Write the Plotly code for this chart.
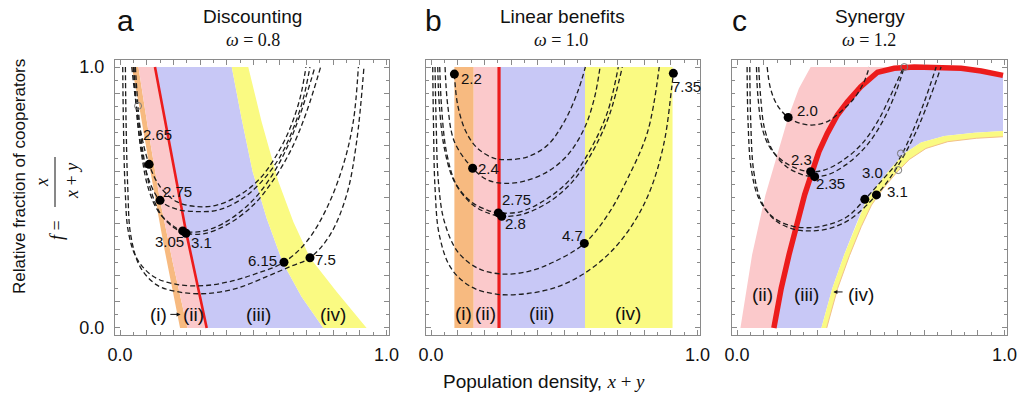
import plotly.graph_objects as go

W, H = 1019, 400
SANS = "Liberation Sans, Arial, Helvetica, sans-serif"
SERIF = "Liberation Serif, Times New Roman, serif"

ORANGE = "#F7BA80"
PINK = "#FBC9CB"
BLUE = "#C8C8F6"
YELLOW = "#FAFA82"
RED = "#EC1C1C"
DASH_COLOR = "#1e1e1e"

# ---------------- Panel a : Discounting, omega = 0.8 ----------------
a_orange_left_x = [0.044, 0.071, 0.109, 0.165, 0.225]
a_orange_left_f = [1.0, 0.854, 0.627, 0.31, 0.0]
a_orange_right_x = [0.069, 0.107, 0.15, 0.198, 0.2525]
a_orange_right_f = [1.0, 0.75, 0.489, 0.25, 0.0]
a_red_x = [0.131, 0.177, 0.222, 0.2475, 0.283, 0.325]
a_red_f = [1.0, 0.75, 0.5, 0.369, 0.2, 0.0]
a_yellow_left_x = [0.419, 0.456, 0.4975, 0.55, 0.61, 0.681, 0.7625]
a_yellow_left_f = [1.0, 0.803, 0.599, 0.42, 0.252, 0.12, 0.0]
a_yellow_right_x = [0.481, 0.531, 0.594, 0.65, 0.7125, 0.8125, 0.925]
a_yellow_right_f = [1.0, 0.79, 0.561, 0.407, 0.269, 0.139, 0.0]

a_traj_x = [
    [0.044, 0.056, 0.075, 0.109, 0.15, 0.2125, 0.2875, 0.3625, 0.45, 0.525, 0.5875, 0.6375, 0.675, 0.6975],
    [0.05, 0.06, 0.0775, 0.106, 0.15, 0.2125, 0.294, 0.369, 0.456, 0.531, 0.6, 0.65, 0.6875, 0.7125],
    [0.0525, 0.0625, 0.081, 0.106, 0.144, 0.194, 0.235, 0.3, 0.3875, 0.4875, 0.5625, 0.625, 0.675, 0.731],
    [0.0575, 0.069, 0.0875, 0.115, 0.1525, 0.2025, 0.2475, 0.3125, 0.4, 0.5, 0.575, 0.644, 0.7, 0.7525],
    [0.01, 0.0125, 0.019, 0.031, 0.0625, 0.125, 0.2125, 0.3125, 0.4125, 0.5125, 0.615, 0.7, 0.775, 0.8375, 0.875, 0.894],
    [0.02, 0.0225, 0.029, 0.04, 0.075, 0.1375, 0.225, 0.325, 0.4375, 0.55, 0.6375, 0.7125, 0.7875, 0.85, 0.8875, 0.915],
]
a_traj_f = [
    [1.0, 0.893, 0.765, 0.627, 0.542, 0.484, 0.465, 0.471, 0.51, 0.573, 0.663, 0.765, 0.88, 1.0],
    [1.0, 0.854, 0.701, 0.573, 0.489, 0.455, 0.446, 0.452, 0.494, 0.561, 0.656, 0.765, 0.88, 1.0],
    [1.0, 0.829, 0.663, 0.535, 0.446, 0.395, 0.372, 0.369, 0.401, 0.478, 0.573, 0.688, 0.816, 1.0],
    [1.0, 0.829, 0.663, 0.529, 0.436, 0.384, 0.363, 0.361, 0.395, 0.471, 0.567, 0.688, 0.829, 1.0],
    [1.0, 0.791, 0.535, 0.369, 0.267, 0.197, 0.167, 0.162, 0.178, 0.209, 0.252, 0.331, 0.458, 0.625, 0.791, 1.0],
    [1.0, 0.791, 0.535, 0.356, 0.235, 0.165, 0.137, 0.132, 0.152, 0.197, 0.235, 0.269, 0.356, 0.51, 0.714, 1.0],
]
a_dot_x = [0.109, 0.15, 0.235, 0.2475, 0.615, 0.7125]
a_dot_f = [0.627, 0.489, 0.372, 0.363, 0.252, 0.269]
a_dot_label = ["2.65", "2.75", "3.05", "3.1", "6.15", "7.5"]
a_open_x = [0.0675]
a_open_f = [0.851]

# ---------------- Panel b : Linear benefits, omega = 1.0 ----------------
b_edges_x = [0.0875, 0.16, 0.255, 0.5775, 0.906]
b_f_range = [0.0, 1.0]
b_red_x = [0.255, 0.255]
b_traj_x = [
    [0.0875, 0.1, 0.131, 0.175, 0.2375, 0.2875, 0.3625, 0.4375, 0.5, 0.55, 0.579],
    [0.0525, 0.0625, 0.0875, 0.156, 0.2125, 0.275, 0.35, 0.4375, 0.5125, 0.575, 0.6125, 0.634],
    [0.025, 0.031, 0.05, 0.0875, 0.15, 0.2125, 0.2525, 0.3375, 0.4375, 0.525, 0.6, 0.6625, 0.7025],
    [0.0325, 0.039, 0.0575, 0.095, 0.1575, 0.22, 0.265, 0.344, 0.444, 0.531, 0.606, 0.669, 0.7175],
    [0.015, 0.019, 0.0275, 0.05, 0.1, 0.175, 0.2625, 0.3625, 0.4625, 0.575, 0.6625, 0.7375, 0.8125, 0.856],
    [0.00625, 0.009, 0.015, 0.031, 0.075, 0.15, 0.25, 0.3625, 0.475, 0.575, 0.675, 0.7625, 0.825, 0.875, 0.9025, 0.909],
]
b_traj_f = [
    [0.973, 0.854, 0.752, 0.688, 0.65, 0.645, 0.656, 0.701, 0.791, 0.905, 1.0],
    [1.0, 0.854, 0.714, 0.612, 0.567, 0.554, 0.563, 0.599, 0.663, 0.765, 0.88, 1.0],
    [1.0, 0.854, 0.688, 0.561, 0.484, 0.451, 0.441, 0.446, 0.497, 0.573, 0.688, 0.829, 1.0],
    [1.0, 0.854, 0.676, 0.548, 0.471, 0.438, 0.428, 0.436, 0.484, 0.561, 0.676, 0.816, 1.0],
    [1.0, 0.791, 0.561, 0.407, 0.292, 0.229, 0.207, 0.216, 0.254, 0.324, 0.433, 0.573, 0.752, 1.0],
    [1.0, 0.791, 0.535, 0.356, 0.229, 0.158, 0.129, 0.132, 0.158, 0.209, 0.292, 0.407, 0.535, 0.714, 0.918, 0.976],
]
b_dot_x = [0.0875, 0.156, 0.2525, 0.265, 0.575, 0.909]
b_dot_f = [0.973, 0.612, 0.441, 0.428, 0.324, 0.976]
b_dot_label = ["2.2", "2.4", "2.75", "2.8", "4.7", "7.35"]

# ---------------- Panel c : Synergy, omega = 1.2 ----------------
c_pink_left_x = [0.0125, 0.056, 0.106, 0.15, 0.191, 0.231, 0.275]
c_pink_left_f = [0.0, 0.28, 0.51, 0.663, 0.807, 0.918, 1.0]
c_red_x = [0.1375, 0.165, 0.194, 0.219, 0.2525, 0.281, 0.306, 0.3375, 0.375, 0.4125, 0.4625, 0.525,
           0.5875, 0.6625, 0.7625, 0.8375, 0.9125, 0.994]
c_red_f = [0.0, 0.152, 0.28, 0.382, 0.51, 0.599, 0.676, 0.746, 0.816, 0.867, 0.925, 0.98,
           0.995, 1.0, 1.0, 0.995, 0.985, 0.968]
c_yellow_top_x = [0.315, 0.356, 0.4, 0.444, 0.481, 0.525, 0.575, 0.625, 0.6875, 0.775, 0.8875, 0.994]
c_yellow_top_f = [0.0, 0.152, 0.28, 0.395, 0.484, 0.548, 0.612, 0.669, 0.711, 0.736, 0.748, 0.755]
c_yellow_bot_x = [0.335, 0.376, 0.42, 0.464, 0.5025, 0.545, 0.594, 0.644, 0.706, 0.7875, 0.894, 0.994]
c_yellow_bot_f = [0.0, 0.152, 0.277, 0.388, 0.471, 0.533, 0.593, 0.646, 0.688, 0.714, 0.727, 0.733]
c_traj_x = [
    [0.1125, 0.125, 0.15, 0.191, 0.2375, 0.2875, 0.3375, 0.3875, 0.4375, 0.475, 0.494],
    [0.0725, 0.0775, 0.094, 0.125, 0.175, 0.231, 0.275, 0.325, 0.3875, 0.4625, 0.525, 0.575, 0.6225],
    [0.081, 0.0875, 0.1025, 0.135, 0.185, 0.24, 0.29, 0.344, 0.406, 0.481, 0.544, 0.594, 0.625],
    [0.0375, 0.041, 0.0525, 0.081, 0.131, 0.2, 0.2625, 0.3375, 0.4125, 0.4775, 0.5375, 0.6, 0.65, 0.7, 0.744],
    [0.0475, 0.051, 0.0625, 0.091, 0.141, 0.21, 0.2725, 0.3475, 0.425, 0.521, 0.575, 0.625, 0.675, 0.725, 0.7625],
]
c_traj_f = [
    [1.0, 0.918, 0.854, 0.807, 0.784, 0.778, 0.791, 0.829, 0.88, 0.944, 1.0],
    [1.0, 0.893, 0.765, 0.688, 0.637, 0.608, 0.599, 0.605, 0.637, 0.701, 0.791, 0.893, 1.0],
    [1.0, 0.893, 0.765, 0.676, 0.618, 0.589, 0.58, 0.589, 0.625, 0.695, 0.791, 0.905, 1.0],
    [1.0, 0.791, 0.612, 0.497, 0.427, 0.392, 0.384, 0.395, 0.427, 0.493, 0.561, 0.637, 0.739, 0.867, 1.0],
    [1.0, 0.791, 0.599, 0.484, 0.414, 0.379, 0.372, 0.382, 0.418, 0.51, 0.58, 0.663, 0.765, 0.893, 1.0],
]
c_dot_x = [0.191, 0.275, 0.29, 0.4775, 0.521]
c_dot_f = [0.807, 0.599, 0.58, 0.493, 0.51]
c_dot_label = ["2.0", "2.3", "2.35", "3.0", "3.1"]
c_open_x = [0.6025, 0.6125, 0.625]
c_open_f = [0.605, 0.669, 1.0]

# label offsets in pixels (style only)
a_label_shift = [(8, 30), (17, 9), (-13, -11), (15, -9), (-21, 2), (16, -2)]
b_label_shift = [(17, -4), (16, 0), (18, 13), (14, -7), (-12, 8), (13, -13)]
c_label_shift = [(19, 7), (-9, 12), (16, -7), (8, 27), (21, 3)]

fig = go.Figure()
AX = [("x", "y"), ("x2", "y2"), ("x3", "y3")]


def fill(xs, fs, color, ax):
    fig.add_trace(go.Scatter(x=xs, y=fs, xaxis=ax[0], yaxis=ax[1], mode="lines",
                             fill="toself", fillcolor=color,
                             line=dict(width=0, color=color), hoverinfo="skip"))


def line(xs, fs, ax, color, width, dash="solid", shape="linear"):
    fig.add_trace(go.Scatter(x=xs, y=fs, xaxis=ax[0], yaxis=ax[1], mode="lines",
                             line=dict(color=color, width=width, dash=dash, shape=shape),
                             hoverinfo="skip"))


def dots(xs, fs, ax, labels, shifts):
    fig.add_trace(go.Scatter(x=xs, y=fs, xaxis=ax[0], yaxis=ax[1], mode="markers",
                             marker=dict(color="black", size=9), hoverinfo="skip"))
    for xv, fv, lab, (dx, dy) in zip(xs, fs, labels, shifts):
        fig.add_annotation(x=xv, y=fv, xref=ax[0], yref=ax[1], text=lab, showarrow=False,
                           xshift=dx, yshift=dy, font=dict(family=SANS, size=15, color="#111"))


def opens(xs, fs, ax):
    fig.add_trace(go.Scatter(x=xs, y=fs, xaxis=ax[0], yaxis=ax[1], mode="markers",
                             marker=dict(color="rgba(255,255,255,0)", size=7,
                                         line=dict(color="#777", width=1)),
                             hoverinfo="skip", cliponaxis=False))


DASH = "5px,3px"
DW = 1.3

# ----- panel a -----
ax = AX[0]
fill(a_orange_left_x + a_orange_right_x[::-1], a_orange_left_f + a_orange_right_f[::-1], ORANGE, ax)
fill(a_orange_right_x + a_red_x[::-1], a_orange_right_f + a_red_f[::-1], PINK, ax)
fill(a_red_x + a_yellow_left_x[::-1], a_red_f + a_yellow_left_f[::-1], BLUE, ax)
fill(a_yellow_left_x + a_yellow_right_x[::-1], a_yellow_left_f + a_yellow_right_f[::-1], YELLOW, ax)
line(a_red_x, a_red_f, ax, RED, 2.6)
for xs, fs in zip(a_traj_x, a_traj_f):
    line(xs, fs, ax, DASH_COLOR, DW, DASH, "spline")
opens(a_open_x, a_open_f, ax)
dots(a_dot_x, a_dot_f, ax, a_dot_label, a_label_shift)

# ----- panel b -----
ax = AX[1]
for i, col in enumerate([ORANGE, PINK, BLUE, YELLOW]):
    x0, x1 = b_edges_x[i], b_edges_x[i + 1]
    fill([x0, x1, x1, x0], [b_f_range[0], b_f_range[0], b_f_range[1], b_f_range[1]], col, ax)
line(b_red_x, b_f_range, ax, RED, 3.2)
for xs, fs in zip(b_traj_x, b_traj_f):
    line(xs, fs, ax, DASH_COLOR, DW, DASH, "spline")
dots(b_dot_x, b_dot_f, ax, b_dot_label, b_label_shift)

# ----- panel c -----
ax = AX[2]
k = c_red_f.index(max(c_red_f))
fill(c_pink_left_x + c_red_x[:k + 1][::-1], c_pink_left_f + c_red_f[:k + 1][::-1], PINK, ax)
fill(c_red_x + c_yellow_top_x[::-1], c_red_f + c_yellow_top_f[::-1], BLUE, ax)
fill(c_yellow_top_x + c_yellow_bot_x[::-1], c_yellow_top_f + c_yellow_bot_f[::-1], YELLOW, ax)
line(c_yellow_bot_x, c_yellow_bot_f, ax, "#F2C08A", 1)
line(c_red_x, c_red_f, ax, RED, 5.5)
for xs, fs in zip(c_traj_x, c_traj_f):
    line(xs, fs, ax, DASH_COLOR, DW, DASH, "spline")
opens(c_open_x, c_open_f, ax)
dots(c_dot_x, c_dot_f, ax, c_dot_label, c_label_shift)

# ---------------- axes ----------------
domains_px = [(115, 389), (426, 700), (732, 1007)]
y_dom = [1 - 335 / H, 1 - 60 / H]
major = [round(0.1 * i, 1) for i in range(11)]
major_txt = ["0.0"] + [""] * 9 + ["1.0"]
for i, (x0, x1) in enumerate(domains_px):
    sfx = "" if i == 0 else str(i + 1)
    common = dict(showgrid=False, zeroline=False, showline=True, linecolor="#8a8a8a", linewidth=1.2,
                  mirror="allticks", ticks="inside", ticklen=5, tickcolor="#8a8a8a", tickwidth=1,
                  tickvals=major, ticktext=major_txt,
                  minor=dict(ticks="inside", ticklen=3, dtick=0.05, tick0=0, tickcolor="#8a8a8a", showgrid=False),
                  tickfont=dict(family=SANS, size=18, color="#111"), automargin=False, fixedrange=True)
    fig.layout["xaxis" + sfx] = dict(common, domain=[x0 / W, x1 / W], range=[-0.019, 1.009],
                                     anchor="y" + sfx, ticklabelstandoff=3)
    fig.layout["yaxis" + sfx] = dict(common, domain=y_dom, range=[-0.027, 1.027],
                                     anchor="x" + sfx, showticklabels=(i == 0), ticklabelstandoff=6)


def ptext(text, px, py, size, family=SANS, angle=0, color="#111"):
    fig.add_annotation(x=px / W, y=1 - py / H, xref="paper", yref="paper", text=text, showarrow=False,
                       xanchor="center", yanchor="middle", textangle=angle,
                       font=dict(family=family, size=size, color=color))


# panel letters and titles
ptext("a", 125, 20, 30)
ptext("b", 433, 20, 30)
ptext("c", 739, 20, 30)
ptext("Discounting", 252, 17, 19)
ptext("Linear benefits", 562, 17, 19)
ptext("Synergy", 870, 17, 19)
ptext("<i>ω</i> = 0.8", 253, 40, 18, SERIF)
ptext("<i>ω</i> = 1.0", 561, 40, 18, SERIF)
ptext("<i>ω</i> = 1.2", 869, 40, 18, SERIF)

# axis titles
ptext("Relative fraction of cooperators", 19, 177, 17, angle=-90)
ptext("<i>f</i> =", 57, 230, 18, SERIF, angle=-90)
ptext("<i>x</i>", 42, 183, 18, SERIF, angle=-90)
ptext("<i>x</i> + <i>y</i>", 72, 181, 18, SERIF, angle=-90)
fig.add_shape(type="line", xref="paper", yref="paper", x0=55 / W, x1=55 / W, y0=1 - 157 / H, y1=1 - 207 / H,
              line=dict(color="#111", width=1))
ptext("Population density, <span style='font-family:Liberation Serif'><i>x</i> + <i>y</i></span>",
      544, 381, 19)

# region labels
REG = dict(family=SANS, size=19, color="#111")
for xv, lab in zip([0.146, 0.277, 0.521, 0.799], ["(i)", "(ii)", "(iii)", "(iv)"]):
    fig.add_annotation(x=xv, y=0.05, xref="x", yref="y", text=lab, showarrow=False, font=REG)
for xv, lab in zip([0.12, 0.206, 0.416, 0.739], ["(i)", "(ii)", "(iii)", "(iv)"]):
    fig.add_annotation(x=xv, y=0.054, xref="x2", yref="y2", text=lab, showarrow=False, font=REG)
for xv, lab in zip([0.094, 0.259, 0.462], ["(ii)", "(iii)", "(iv)"]):
    fig.add_annotation(x=xv, y=0.13, xref="x3", yref="y3", text=lab, showarrow=False, font=REG)
# small arrows
fig.add_annotation(x=0.227, y=0.052, xref="x", yref="y", ax=0.183, ay=0.052, axref="x", ayref="y",
                   text="", showarrow=True, arrowhead=2, arrowsize=0.8, arrowwidth=1, arrowcolor="#111")
fig.add_annotation(x=0.36, y=0.138, xref="x3", yref="y3", ax=0.4, ay=0.138, axref="x3", ayref="y3",
                   text="", showarrow=True, arrowhead=2, arrowsize=0.8, arrowwidth=1, arrowcolor="#111")

fig.update_layout(width=W, height=H, margin=dict(l=0, r=0, t=0, b=0), showlegend=False,
                  plot_bgcolor="white", paper_bgcolor="white")
fig.write_html("out.html")
